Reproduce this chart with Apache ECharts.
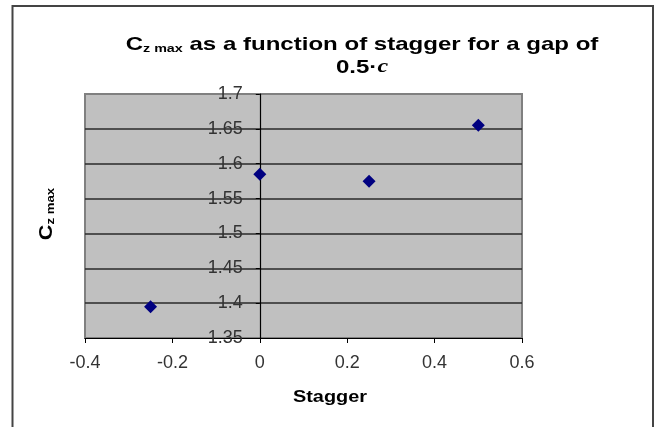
<!DOCTYPE html>
<html>
<head>
<meta charset="utf-8">
<script src="https://cdn.jsdelivr.net/npm/echarts@6/dist/echarts.min.js"></script>
<style>
html,body{margin:0;padding:0;background:#fff;}
#chart{width:659px;height:427px;}
</style>
</head>
<body>
<div id="chart"></div>
<script>
// Data
const staggerValues = [-0.25, 0, 0.25, 0.5];
const czMaxValues = [1.395, 1.585, 1.575, 1.655];
const xTicks = { min: -0.4, max: 0.6, interval: 0.2 };
const yTicks = { min: 1.35, max: 1.7, interval: 0.05 };
const titleLine1 = 'as a function of stagger for a gap of';
const titleLine2 = '0.5·';
const xAxisTitle = 'Stagger';

const points = staggerValues.map((x, i) => [x, czMaxValues[i]]);

const chart = echarts.init(document.getElementById('chart'), null, { renderer: 'canvas' });
const FONT = 'Liberation Sans, Arial, sans-serif';
const gridLeft = 85, gridRight = 137;
const plotWidth = 659 - gridLeft - gridRight;
// y axis sits where stagger = 0
const yAxisOffset = -plotWidth * (0 - xTicks.min) / (xTicks.max - xTicks.min);

chart.setOption({
  animation: false,
  backgroundColor: '#ffffff',
  grid: {
    left: gridLeft, right: gridRight, top: 94, bottom: 89,
    show: true,
    backgroundColor: '#c0c0c0',
    borderColor: '#808080',
    borderWidth: 2
  },
  xAxis: {
    type: 'value',
    min: xTicks.min, max: xTicks.max, interval: xTicks.interval,
    axisLine: { show: true, onZero: false, lineStyle: { color: '#000', width: 1 } },
    axisTick: { show: true, inside: false, length: 5, lineStyle: { color: '#000' } },
    axisLabel: { color: '#333', fontSize: 18, fontFamily: FONT, margin: 16,
      formatter: v => String(Math.round(v * 10) / 10) },
    splitLine: { show: false }
  },
  yAxis: {
    type: 'value',
    position: 'left',
    offset: yAxisOffset,
    min: yTicks.min, max: yTicks.max, interval: yTicks.interval,
    axisLine: { show: true, onZero: false, lineStyle: { color: '#000', width: 1.2 } },
    axisTick: { show: true, inside: false, length: 4, lineStyle: { color: '#000' } },
    axisLabel: { color: '#333', fontSize: 18, fontFamily: FONT, margin: 17,
      formatter: v => String(Math.round(v * 100) / 100) },
    splitLine: { show: true, showMinLine: false, showMaxLine: false,
      lineStyle: { color: '#2a2a2a', width: 1.5 } }
  },
  series: [{
    type: 'scatter',
    data: points,
    symbol: 'diamond',
    symbolSize: 13,
    itemStyle: { color: '#000080', opacity: 1 }
  }],
  graphic: [
    {
      type: 'polyline',
      shape: { points: [[12.5, 427], [12.5, 6], [653, 6], [653, 427]] },
      style: { stroke: '#444', lineWidth: 2, fill: null },
      silent: true
    },
    {
      type: 'text',
      x: 362, y: 33,
      scaleX: 1.3,
      style: {
        x: 0, y: 0,
        text: '{m|C}{s|z max}{m| ' + titleLine1 + '}\n{m|' + titleLine2 + '}{i|c}',
        align: 'center',
        verticalAlign: 'top',
        fill: '#000',
        rich: {
          m: { fontSize: 18.5, fontWeight: 'bold', fontFamily: FONT, lineHeight: 23, fill: '#000' },
          s: { fontSize: 11, fontWeight: 'bold', fontFamily: FONT, lineHeight: 12, padding: [8, 0, 0, 0], fill: '#000' },
          i: { fontSize: 18.5, fontStyle: 'italic', fontWeight: 'bold', fontFamily: 'Liberation Serif, Times New Roman, serif', lineHeight: 23, fill: '#000' }
        }
      }
    },
    {
      type: 'text',
      x: 330, y: 397,
      scaleX: 1.17,
      style: {
        x: 0, y: 0,
        text: xAxisTitle,
        align: 'center', verticalAlign: 'middle',
        fontSize: 17, fontWeight: 'bold', fontFamily: FONT, fill: '#000'
      }
    },
    {
      type: 'text',
      x: 47, y: 214,
      rotation: Math.PI / 2,
      scaleX: 1.2,
      style: {
        x: 0, y: 0,
        text: '{m|C}{s|z max}',
        align: 'center', verticalAlign: 'middle',
        fill: '#000',
        rich: {
          m: { fontSize: 18, fontWeight: 'bold', fontFamily: FONT, lineHeight: 20, fill: '#000' },
          s: { fontSize: 11, fontWeight: 'bold', fontFamily: FONT, lineHeight: 12, padding: [8, 0, 0, 0], fill: '#000' }
        }
      }
    }
  ]
});
</script>
</body>
</html>
